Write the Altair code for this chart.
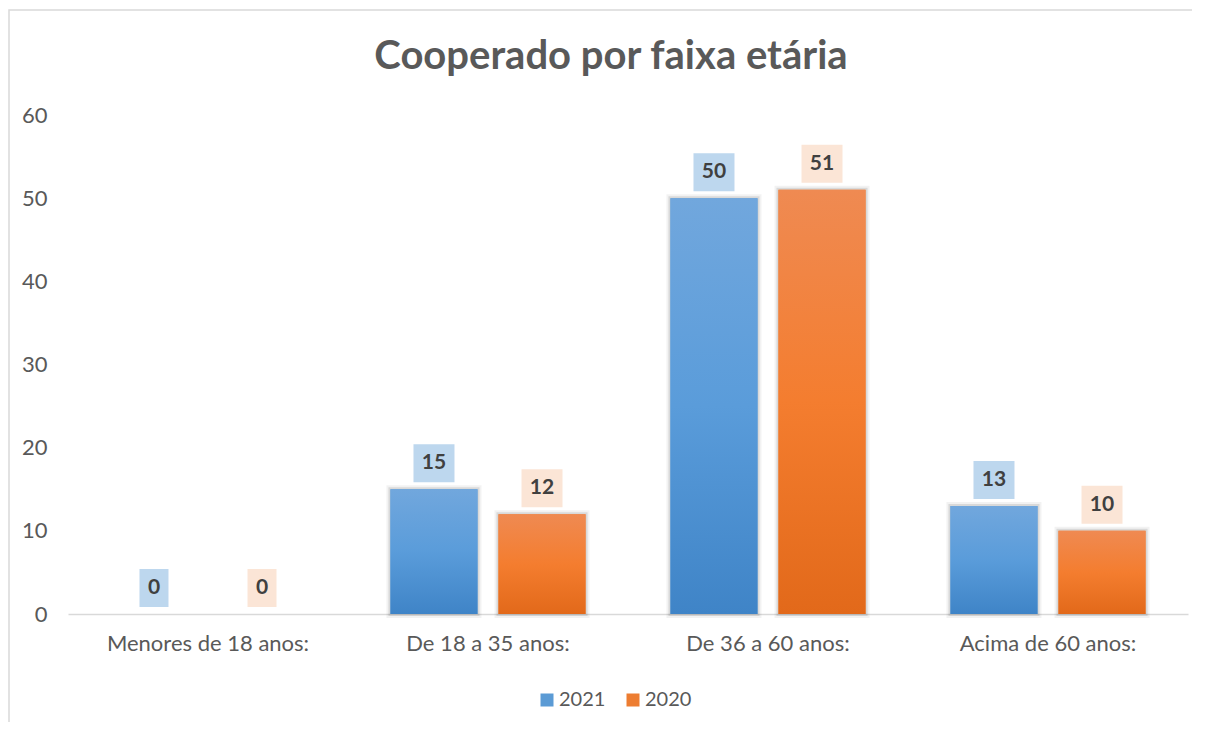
import altair as alt
import pandas as pd

categories = ["Menores de 18 anos:", "De 18 a 35 anos:", "De 36 a 60 anos:", "Acima de 60 anos:"]
series = ["2021", "2020"]
values_2021 = [0, 15, 50, 13]
values_2020 = [0, 12, 51, 10]
title_text = "Cooperado por faixa etária"

rows = []
for c, a, b in zip(categories, values_2021, values_2020):
    rows.append({"cat": c, "serie": "2021", "value": a})
    rows.append({"cat": c, "serie": "2020", "value": b})
df = pd.DataFrame(rows)

W, H = 1120, 499
FONT = "Lato"
GREY = "#595959"

x_enc = alt.X("cat:N", sort=categories, title=None,
              scale=alt.Scale(paddingInner=0, paddingOuter=0),
              axis=alt.Axis(labelAngle=0, labelFont=FONT, labelFontSize=22, labelColor=GREY,
                            labelLimit=400, labelPadding=19, ticks=False,
                            domainColor="#D9D9D9", domainWidth=1.5))
xo_enc = alt.XOffset("serie:N", sort=series,
                     scale=alt.Scale(domain=series, paddingInner=0.194, paddingOuter=0.393))
y_enc = alt.Y("value:Q", title=None,
              scale=alt.Scale(domain=[0, 60]),
              axis=alt.Axis(values=[0, 10, 20, 30, 40, 50, 60], grid=False, domain=False, ticks=False,
                            labelFont=FONT, labelFontSize=22, labelColor=GREY, labelPadding=21))

base = alt.Chart(df)
one = "datum.cat == 'Menores de 18 anos:' && datum.serie == '2021'"

frame = base.mark_rect(fill=None, stroke="#D9D9D9", strokeWidth=1.5).encode(
    x=alt.value(-59), x2=alt.value(W + 40), y=alt.value(-105), y2=alt.value(H + 140)
).transform_filter(one)

title = base.mark_text(text=title_text, font=FONT, fontSize=40, fontWeight="bold", color=GREY,
                       align="center", baseline="middle").encode(
    x=alt.value(543), y=alt.value(-58)
).transform_filter(one)

shadow_outer = base.mark_bar(fill="#000000", fillOpacity=0, stroke="#000000", strokeOpacity=0.05,
                             strokeWidth=8).encode(
    x=x_enc, xOffset=xo_enc, y=y_enc
).transform_filter("datum.value > 0")
shadow_inner = base.mark_bar(fill="#000000", fillOpacity=0, stroke="#000000", strokeOpacity=0.10,
                             strokeWidth=4).encode(
    x=x_enc, xOffset=xo_enc, y=y_enc
).transform_filter("datum.value > 0")

solid = base.mark_bar().encode(
    x=x_enc, xOffset=xo_enc, y=y_enc,
    color=alt.Color("serie:N", sort=series,
                    scale=alt.Scale(domain=series, range=["#5B9BD5", "#ED7D31"]),
                    legend=alt.Legend(title=None, orient="none", direction="horizontal",
                                      legendX=469, legendY=575, symbolType="square", symbolSize=169,
                                      symbolStrokeWidth=0, labelFont=FONT, labelFontSize=20,
                                      labelColor=GREY, columnPadding=17, labelOffset=2))
).transform_filter("datum.value > 0")

grad_blue = alt.Gradient(gradient="linear", x1=0, x2=0, y1=0, y2=1,
                         stops=[alt.GradientStop(color="#71A7DD", offset=0),
                                alt.GradientStop(color="#5A9CDA", offset=0.5),
                                alt.GradientStop(color="#3F84C7", offset=1)])
grad_orange = alt.Gradient(gradient="linear", x1=0, x2=0, y1=0, y2=1,
                           stops=[alt.GradientStop(color="#EF8A52", offset=0),
                                  alt.GradientStop(color="#F47D2F", offset=0.5),
                                  alt.GradientStop(color="#E2691A", offset=1)])

blue = base.mark_bar(fill=grad_blue).encode(x=x_enc, xOffset=xo_enc, y=y_enc).transform_filter(
    "datum.serie == '2021' && datum.value > 0")
orange = base.mark_bar(fill=grad_orange).encode(x=x_enc, xOffset=xo_enc, y=y_enc).transform_filter(
    "datum.serie == '2020' && datum.value > 0")

box_color = alt.Color("serie:N", scale=alt.Scale(domain=series, range=["#BDD7EE", "#FBE5D6"]), legend=None)

box2 = base.mark_point(shape="M-1,-0.927H1V0.927H-1Z", size=41 * 41, filled=True, opacity=1,
                       strokeWidth=0, yOffset=-26).encode(
    x=x_enc, xOffset=xo_enc, y=y_enc, fill=box_color
).transform_filter("datum.value >= 10")

box1 = base.mark_point(shape="M-1,-1.31H1V1.31H-1Z", size=29 * 29, filled=True, opacity=1,
                       strokeWidth=0, yOffset=-26).encode(
    x=x_enc, xOffset=xo_enc, y=y_enc, fill=box_color
).transform_filter("datum.value < 10")

labels = base.mark_text(font=FONT, fontSize=21, fontWeight="bold", color="#404040",
                        baseline="middle", dy=-26).encode(
    x=x_enc, xOffset=xo_enc, y=y_enc, text=alt.Text("value:Q")
)

chart = alt.layer(frame, title, shadow_outer, shadow_inner, solid, blue, orange,
                  box2, box1, labels).resolve_scale(
    color="independent", fill="independent"
).properties(
    width=W, height=H,
    autosize="none",
    padding={"left": 60, "top": 107, "right": 4, "bottom": 108},
).configure(background="white", view=alt.ViewConfig(stroke="transparent", strokeWidth=0))

chart.save("out.html", embed_options={"renderer": "svg", "actions": False})
